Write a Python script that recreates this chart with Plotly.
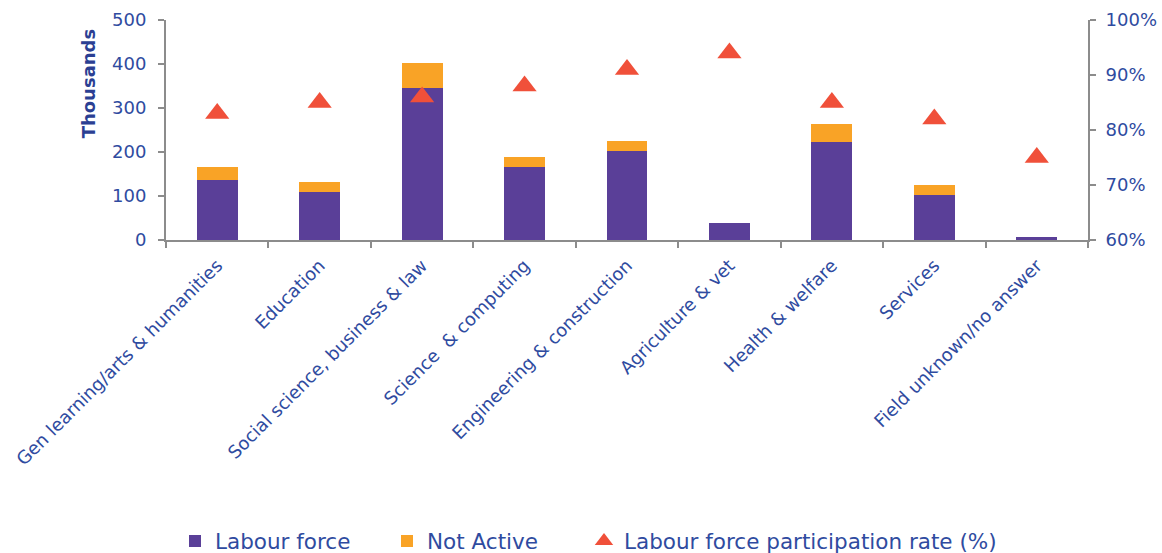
import plotly.graph_objects as go

# Field of study categories
categories = [
    "Gen learning/arts & humanities",
    "Education",
    "Social science, business & law",
    "Science  & computing",
    "Engineering & construction",
    "Agriculture & vet",
    "Health & welfare",
    "Services",
    "Field unknown/no answer",
]

# Thousands of people
labour_force = [137, 110, 346, 166, 203, 39, 223, 102, 7]
not_active = [28, 22, 56, 23, 21, 0, 41, 22, 0]

# Labour force participation rate (%)
participation_rate = [83, 85, 86, 88, 91, 94, 85, 82, 75]

TEXT_BLUE = "#2F4BA0"
AXIS_GREY = "#8C8C8C"
FONT = "DejaVu Sans, sans-serif"
W, H = 1162, 553

fig = go.Figure()

fig.add_trace(go.Bar(
    x=categories, y=labour_force, name="Labour force",
    marker=dict(color="#5A3F98", line=dict(width=0)),
    legend="legend",
))
fig.add_trace(go.Bar(
    x=categories, y=not_active, name="Not Active",
    marker=dict(color="#F9A326", line=dict(width=0)),
    legend="legend2",
))
fig.add_trace(go.Scatter(
    x=categories, y=participation_rate, name="Labour force participation rate (%)",
    mode="markers", yaxis="y2",
    marker=dict(symbol="triangle-up", size=21, color="#F0503A"),
    legend="legend3",
))

axis_common = dict(
    showline=True, linecolor=AXIS_GREY, linewidth=2,
    ticks="outside", ticklen=6, tickcolor=AXIS_GREY, tickwidth=2,
    showgrid=False, zeroline=False, automargin=False,
)


def legend_at(left_px):
    # one legend box per entry, placed along the bottom row
    return dict(
        orientation="h", xref="container", yref="container",
        x=left_px / W, xanchor="left", y=1 - 541 / H, yanchor="middle",
        font=dict(size=21.5, color=TEXT_BLUE),
        bgcolor="rgba(0,0,0,0)",
    )


fig.update_layout(
    width=W, height=H,
    margin=dict(l=166, r=74, t=20, b=313, autoexpand=False),
    paper_bgcolor="white", plot_bgcolor="white",
    barmode="stack", bargap=0.6,
    font=dict(family=FONT, color=TEXT_BLUE, size=18),
    showlegend=True,
    legend=legend_at(175),
    legend2=legend_at(387),
    legend3=legend_at(584),
    xaxis=dict(
        type="category", range=[-0.5, len(categories) - 0.5],
        tickangle=-45, tickson="boundaries", ticklabelstandoff=6,
        tickfont=dict(size=18, color=TEXT_BLUE),
        **axis_common,
    ),
    yaxis=dict(
        range=[0, 500], dtick=100, ticklabelstandoff=8,
        tickfont=dict(size=18, color=TEXT_BLUE),
        **axis_common,
    ),
    yaxis2=dict(
        range=[60, 100], dtick=10, ticksuffix="%", ticklabelstandoff=6,
        overlaying="y", side="right",
        tickfont=dict(size=18, color=TEXT_BLUE),
        **axis_common,
    ),
    annotations=[dict(
        text="<b>Thousands</b>", textangle=-90,
        xref="paper", yref="paper", x=-0.084, y=0.71,
        xanchor="center", yanchor="middle", showarrow=False,
        font=dict(size=18, color="#2B3F93"),
    )],
)

fig.write_html("out.html")
